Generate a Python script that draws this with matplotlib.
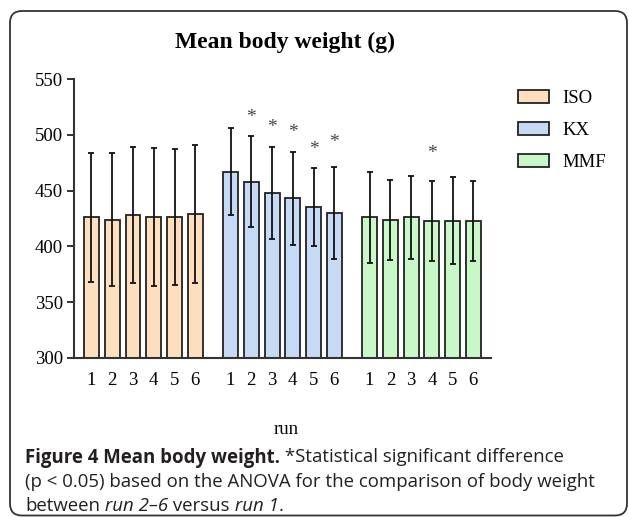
import matplotlib
matplotlib.use('Agg')
import matplotlib.pyplot as plt
import numpy as np
from matplotlib.patches import FancyBboxPatch, Patch
from matplotlib.transforms import IdentityTransform

# data (mean +/- SD, grams)
groups = ['ISO', 'KX', 'MMF']
runs = ['1', '2', '3', '4', '5', '6']
iso_mean = [426, 424, 428, 426, 426, 429]
iso_sd = [58, 60, 61, 62, 61, 62]
kx_mean = [467, 458, 448, 443, 435, 430]
kx_sd = [39, 41, 41, 42, 35, 41]
mmf_mean = [426, 424, 426, 423, 423, 423]
mmf_sd = [41, 36, 37, 36, 39, 36]

# significance stars: group index, run index, height of the star
star_group = [1, 1, 1, 1, 1, 2]
star_run = [1, 2, 3, 4, 5, 3]
star_y = [516, 507, 502, 487, 493, 483]

colors = ['#FDDEBF', '#C6DAF5', '#C8F7C8']
yticks = [300, 350, 400, 450, 500, 550]

W, H = 629, 517
fig = plt.figure(figsize=(W / 100, H / 100), dpi=100)
serif = ['Liberation Serif', 'DejaVu Serif']

# rounded frame around the whole figure
frame = FancyBboxPatch((10, 1.5), 617, 504.5, boxstyle='round,pad=0,rounding_size=12',
                       transform=IdentityTransform(), fill=False, ec='#333333', lw=1.3)
fig.patches.append(frame)

ax = fig.add_axes([74 / W, 1 - 357.7 / H, (491 - 74) / W, (357.7 - 79.3) / H])

means = [iso_mean, kx_mean, mmf_mean]
sds = [iso_sd, kx_sd, mmf_sd]
gap = 6.7
xpos_all = []
for g in range(len(groups)):
    x = np.arange(len(runs)) + g * gap
    xpos_all.extend(x)
    ax.bar(x, means[g], width=0.72, bottom=0, color=colors[g], edgecolor='#222222',
           linewidth=1.3, zorder=2, label=groups[g])
    ax.errorbar(x, means[g], yerr=sds[g], fmt='none', ecolor='#111111',
                elinewidth=1.3, capsize=2.5, capthick=1.3, zorder=3)

for g, r, y in zip(star_group, star_run, star_y):
    ax.text(r + g * gap, y, '*', ha='center', va='center', fontsize=14,
            family=serif, color='#444444')

ax.set_ylim(300, 550)
ax.set_xlim(-0.843, 19.25)
ax.set_yticks(yticks)
ax.set_yticklabels([str(t) for t in yticks], family=serif, fontsize=13.5)
ax.set_xticks(xpos_all)
ax.set_xticklabels(runs * 3, family=serif, fontsize=13.5)
ax.tick_params(axis='y', length=5, width=1.3, pad=3, color='#222222')
ax.tick_params(axis='x', length=0, pad=10)
for s in ['top', 'right']:
    ax.spines[s].set_visible(False)
for s in ['left', 'bottom']:
    ax.spines[s].set_linewidth(1.5)
    ax.spines[s].set_color('#333333')

fig.text(285 / W, 1 - 48 / H, 'Mean body weight (g)', ha='center', va='baseline',
         family=serif, fontsize=17, fontweight='bold')
fig.text(286 / W, 1 - 430 / H, 'run', ha='center', va='center', family=serif, fontsize=13.5)

handles = [Patch(facecolor=colors[i], edgecolor='#222222', linewidth=1.3) for i in range(3)]
fig.legend(handles, groups, loc='center left', bbox_to_anchor=(518 / W, 1 - 130.5 / H),
           frameon=False, prop={'family': serif, 'size': 13.5}, borderpad=0,
           borderaxespad=0, handlelength=1.65, handleheight=0.64, handletextpad=0.7,
           labelspacing=0.8)

# caption with mixed styles, placed piece by piece
cap_font = 'Open Sans'
cap_size = 13.4
cap_color = '#231F20'
lines = [
    (462.5, [('Figure 4 Mean body weight.', 'bold', 'normal'),
             (' *Statistical significant difference', 'normal', 'normal')]),
    (487.0, [('(p < 0.05) based on the ANOVA for the comparison of body weight', 'normal', 'normal')]),
    (511.0, [('between', 'normal', 'normal'), (' run 2\u20136', 'normal', 'italic'),
             (' versus', 'normal', 'normal'), (' run 1', 'normal', 'italic'),
             ('.', 'normal', 'normal')]),
]
renderer = fig.canvas.get_renderer()
for ybase, parts in lines:
    x = 25
    for s, wt, st in parts:
        t = fig.text(x / W, 1 - ybase / H, s, ha='left', va='baseline', family=cap_font,
                     fontsize=cap_size, fontweight=wt, style=st, color=cap_color)
        bb = t.get_window_extent(renderer)
        x = bb.x1

fig.savefig('out.png', dpi=100)
